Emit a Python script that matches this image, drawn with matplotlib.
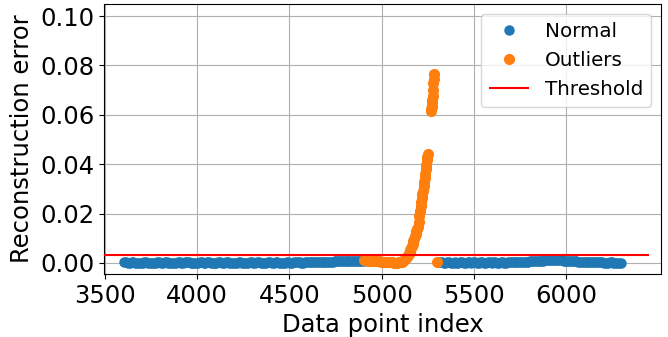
import numpy as np
import matplotlib
matplotlib.use("Agg")
import matplotlib.pyplot as plt

# ---- data ----
normal_left_start, normal_left_step = 3605, 10
normal_left_err = [
    0.0002, 0.0002, 0.0001, 0.0001, 0.0002, 0.0002, 0.0001, 0.0001, 0.0000, 0.0001,
    0.0001, 0.0002, 0.0002, 0.0001, 0.0001, 0.0000, 0.0000, 0.0001, 0.0002, 0.0002,
    0.0001, 0.0001, 0.0002, 0.0002, 0.0001, 0.0001, 0.0000, 0.0001, 0.0001, 0.0002,
    0.0002, 0.0001, 0.0001, 0.0002, 0.0003, 0.0002, 0.0001, 0.0001, 0.0000, 0.0001,
    0.0001, 0.0002, 0.0002, 0.0001, 0.0001, 0.0002, 0.0002, 0.0001, 0.0000, 0.0000,
    0.0001, 0.0002, 0.0002, 0.0001, 0.0001, 0.0002, 0.0002, 0.0001, 0.0001, 0.0000,
    0.0001, 0.0001, 0.0002, 0.0002, 0.0001, 0.0001, 0.0000, 0.0001, 0.0002, 0.0002,
    0.0001, 0.0001, 0.0002, 0.0002, 0.0001, 0.0000, 0.0001, 0.0001, 0.0002, 0.0002,
    0.0001, 0.0001, 0.0002, 0.0002, 0.0001, 0.0001, 0.0000, 0.0001, 0.0002, 0.0002,
    0.0001, 0.0001, 0.0002, 0.0002, 0.0003, 0.0002, 0.0001, 0.0001, 0.0002, 0.0002,
    0.0002, 0.0003, 0.0003, 0.0002, 0.0002, 0.0003, 0.0003, 0.0003, 0.0004, 0.0004,
    0.0004, 0.0005, 0.0005, 0.0005, 0.0006, 0.0006, 0.0006, 0.0007, 0.0007, 0.0007,
    0.0007, 0.0008, 0.0008, 0.0008, 0.0008, 0.0009, 0.0009, 0.0009, 0.0009, 0.0009,
    0.0009,
]

outlier_idx = [
    4905, 4915, 4925, 4935, 4945, 4955, 4965, 4975, 4985, 4995,
    5005, 5015, 5025, 5035, 5045, 5055, 5065, 5075, 5085, 5095,
    5103, 5110, 5116, 5122, 5128, 5133, 5138, 5143, 5148, 5152,
    5156, 5160, 5164, 5168, 5172, 5176, 5180, 5184, 5188, 5192,
    5196, 5200, 5204, 5208, 5212, 5215, 5218, 5221, 5224, 5227,
    5230, 5233, 5236, 5239, 5242, 5245, 5248, 5251,
    5266, 5268, 5270, 5272, 5274, 5276, 5278, 5280, 5282, 5284, 5300,
]
outlier_err = [
    0.0010, 0.0010, 0.0009, 0.0009, 0.0008, 0.0008, 0.0007, 0.0007, 0.0006, 0.0005,
    0.0005, 0.0004, 0.0003, 0.0003, 0.0002, 0.0002, 0.0001, 0.0001, 0.0001, 0.0002,
    0.0003, 0.0005, 0.0007, 0.0010, 0.0014, 0.0019, 0.0025, 0.0031, 0.0038, 0.0045,
    0.0052, 0.0060, 0.0069, 0.0078, 0.0088, 0.0098, 0.0108, 0.0118, 0.0128, 0.0138,
    0.0147, 0.0165, 0.0190, 0.0210, 0.0232, 0.0248, 0.0262, 0.0278, 0.0292, 0.0310,
    0.0326, 0.0345, 0.0362, 0.0380, 0.0398, 0.0415, 0.0430, 0.0442,
    0.0615, 0.0622, 0.0632, 0.0646, 0.0660, 0.0675, 0.0700, 0.0728, 0.0745, 0.0765, 0.0005,
]

normal_right_start, normal_right_step = 5315, 10
normal_right_err = [
    0.0002, 0.0002, 0.0001, 0.0001, 0.0002, 0.0002, 0.0001, 0.0001, 0.0002, 0.0001,
    0.0001, 0.0002, 0.0002, 0.0001, 0.0001, 0.0002, 0.0002, 0.0001, 0.0002, 0.0002,
    0.0001, 0.0001, 0.0002, 0.0002, 0.0001, 0.0001, 0.0002, 0.0002, 0.0001, 0.0002,
    0.0002, 0.0001, 0.0001, 0.0002, 0.0002, 0.0001, 0.0001, 0.0002, 0.0002, 0.0002,
    0.0003, 0.0003, 0.0003, 0.0004, 0.0004, 0.0004, 0.0005, 0.0005, 0.0005, 0.0006,
    0.0006, 0.0007, 0.0007, 0.0008, 0.0008, 0.0009, 0.0009, 0.0010, 0.0010, 0.0010,
    0.0010, 0.0010, 0.0011, 0.0011, 0.0010, 0.0010, 0.0010, 0.0009, 0.0009, 0.0008,
    0.0008, 0.0007, 0.0007, 0.0006, 0.0006, 0.0005, 0.0005, 0.0004, 0.0004, 0.0004,
    0.0003, 0.0003, 0.0003, 0.0003, 0.0002, 0.0002, 0.0002, 0.0002, 0.0002, 0.0001,
    0.0001, 0.0001, 0.0002, 0.0002, 0.0001, 0.0001, 0.0001, 0.0001, 0.0001,
]

threshold = 0.003
threshold_span = [3496, 6448]
x_limits = [3496, 6513]
y_limits = [-0.0045, 0.1049]
x_ticks = [3500, 4000, 4500, 5000, 5500, 6000]
y_ticks = [0.00, 0.02, 0.04, 0.06, 0.08, 0.10]

normal_left_idx = normal_left_start + normal_left_step * np.arange(len(normal_left_err))
normal_right_idx = normal_right_start + normal_right_step * np.arange(len(normal_right_err))
normal_idx = np.concatenate([normal_left_idx, normal_right_idx])
normal_err = np.concatenate([normal_left_err, normal_right_err])

# ---- plot ----
plt.rcParams['font.family'] = ['DejaVu Sans']
fig = plt.figure(figsize=(6.68, 3.37), dpi=100)
ax = fig.add_axes([104/668, 1 - 274/337, (661 - 104)/668, (274 - 4)/337])

ax.plot(normal_idx, normal_err, 'o', color='#1f77b4', markersize=6.5, label='Normal', zorder=3)
ax.plot(outlier_idx, outlier_err, 'o', color='#ff7f0e', markersize=7, label='Outliers', zorder=3)
ax.hlines(threshold, threshold_span[0], threshold_span[1], colors='red', linewidth=1.5,
          label='Threshold', zorder=4)

ax.set_xlim(*x_limits)
ax.set_ylim(*y_limits)
ax.set_xticks(x_ticks)
ax.set_yticks(y_ticks)
ax.set_yticklabels([f"{v:.2f}" for v in y_ticks])
ax.tick_params(labelsize=17.5)
ax.grid(True, color='#b0b0b0', linewidth=0.8)
ax.set_axisbelow(True)
ax.set_xlabel('Data point index', fontsize=17.5)
ax.set_ylabel('Reconstruction error', fontsize=17.5)
ax.legend(loc='upper right', fontsize=14.3)

fig.savefig('out.png', dpi=100)
